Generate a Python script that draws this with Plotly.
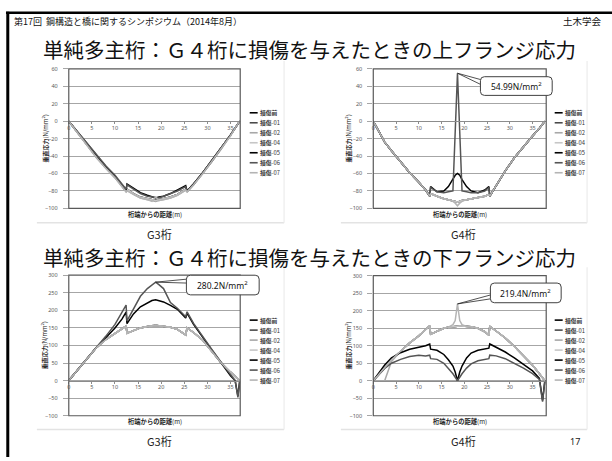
import plotly.graph_objects as go

W, H = 612, 461
JP = "Noto Sans CJK JP"

# ---------------------------------------------------------------- series
SERIES = ["損傷前", "損傷-01", "損傷-02", "損傷-04", "損傷-05", "損傷-06", "損傷-07"]
LINE_COLORS = ["#000000", "#4a4a4a", "#a8a8a8", "#c6c6c6", "#000000", "#555555", "#b4b4b4"]

# distance from girder end (m)
x_g3 = [0, 2, 4, 6, 8, 10, 11.5, 12.4, 12.6, 14, 15.5, 17, 18, 18.8, 19.5, 20.5,
        22, 23.5, 25.3, 25.6, 27, 29, 31, 33, 35, 36, 36.6, 37.0]
x_g4 = [0, 1.2, 2.5, 4, 6, 8, 10, 11.5, 12.4, 12.6, 14, 15.5, 16.5, 17.5, 18.0, 18.5,
        19.0, 19.5, 20.5, 21.5, 23, 24.5, 25.4, 25.6, 27, 29, 31, 33, 35, 36.5, 37.2, 37.7]

# G3 upper flange (N/mm2)
g3_upper_pre = [0, -14, -28, -41, -53, -64, -74, -80, -78, -83, -87, -89, -90, -91, -90, -89,
                -87, -84, -78, -80, -72, -59, -45, -31, -16, -8, -3, 0]
g3_upper_d01 = [0, -14, -28, -41, -53, -64, -74, -80, -78, -83, -87, -89, -90, -90, -90, -89,
                -87, -84, -78, -80, -72, -59, -45, -31, -16, -8, -3, 0]
g3_upper_d02 = [0, -14, -28, -42, -54, -65, -75, -81, -79, -84, -88, -90, -91, -92, -91, -90,
                -88, -85, -79, -81, -73, -60, -46, -32, -16, -8, -3, 0]
g3_upper_d04 = [0, -14, -28, -41, -53, -64, -74, -80, -78, -83, -87, -89, -90, -91, -90, -89,
                -87, -84, -78, -80, -72, -59, -45, -31, -16, -8, -3, 0]
g3_upper_d05 = [0, -13, -27, -40, -52, -63, -73, -79, -72, -77, -82, -85, -87, -88, -87, -86,
                -83, -79, -74, -80, -72, -59, -45, -31, -16, -8, -3, 0]
g3_upper_d06 = [0, -13, -26, -39, -51, -62, -72, -78, -73, -78, -83, -86, -87, -88, -88, -86,
                -83, -80, -75, -81, -73, -60, -46, -31, -16, -8, -3, 0]
g3_upper_d07 = [0, -14, -29, -42, -54, -65, -75, -81, -80, -84, -88, -90, -92, -87, -91, -90,
                -88, -85, -79, -81, -73, -60, -46, -32, -17, -8, -3, 0]

# G4 upper flange (N/mm2)
g4_upper_pre = [0, -12, -24, -34, -47, -59, -70, -79, -86, -83, -86, -89, -90, -91, -92, -93,
                -92, -91, -90, -89, -88, -86, -84, -86, -74, -57, -42, -29, -17, -8, -4, 0]
g4_upper_d01 = [0, -12, -24, -34, -47, -59, -70, -79, -86, -83, -86, -89, -90, -91, -92, -93,
                -92, -91, -90, -89, -88, -86, -84, -86, -74, -57, -42, -29, -17, -8, -4, 0]
g4_upper_d02 = [0, -12, -24, -34, -47, -59, -70, -79, -86, -83, -86, -89, -90, -91, -92, -93,
                -92, -91, -90, -89, -88, -86, -84, -86, -74, -57, -42, -29, -17, -8, -4, 0]
g4_upper_d04 = [0, -12, -24, -34, -47, -59, -70, -79, -86, -83, -86, -89, -90, -91, -92, -93,
                -92, -91, -90, -89, -88, -86, -84, -86, -74, -57, -42, -29, -17, -8, -4, 0]
g4_upper_d05 = [0, -12, -24, -34, -47, -59, -70, -79, -86, -75, -81, -80, -75, -67, -62, -60,
                -62, -67, -75, -80, -82, -79, -75, -86, -74, -57, -42, -29, -17, -8, -4, 0]
g4_upper_d06 = [0, -12, -24, -34, -47, -59, -70, -79, -86, -76, -81, -82, -81, -80, None, 54.99,
                None, -80, -81, -82, -82, -80, -76, -86, -74, -57, -42, -29, -17, -8, -4, 0]
g4_upper_d07 = [0, -12, -24, -34, -47, -59, -70, -79, -86, -83, -86, -89, -90, -92, -94, -97,
                -94, -92, -90, -89, -88, -86, -84, -86, -74, -57, -42, -29, -17, -8, -4, 0]

# G3 lower flange (N/mm2)
g3_lower_pre = [0, 31, 62, 94, 117, 135, 147, 155, 135, 143, 150, 154, 156, 157, 156, 155,
                152, 146, 130, 150, 137, 115, 84, 50, 24, 11, 3, 0]
g3_lower_d01 = [0, 31, 62, 94, 117, 135, 147, 155, 135, 143, 150, 154, 156, 158, 156, 155,
                152, 146, 130, 150, 137, 115, 84, 50, 24, 11, 3, 0]
g3_lower_d02 = [0, 31, 62, 94, 117, 135, 147, 155, 135, 143, 150, 154, 156, 157, 156, 155,
                152, 146, 130, 150, 137, 115, 84, 50, 24, 11, 3, 0]
g3_lower_d04 = [0, 31, 62, 94, 117, 135, 147, 155, 135, 143, 150, 154, 156, 157, 156, 155,
                152, 146, 130, 150, 137, 115, 84, 50, 24, 11, 3, 0]
g3_lower_d05 = [0, 31, 62, 95, 122, 150, 175, 195, 162, 190, 210, 222, 228, 230, 228, 224,
                214, 203, 178, 192, 160, 122, 86, 50, 14, 0, -44, 0]
g3_lower_d06 = [0, 31, 62, 96, 126, 160, 192, 215, 170, 205, 240, 262, 272, 280.2, 273, 262,
                222, 206, 182, 196, 163, 124, 88, 52, 15, 0, -48, 0]
g3_lower_d07 = [0, 31, 62, 94, 117, 135, 147, 155, 134, 143, 150, 154, 156, 158, 156, 155,
                152, 146, 130, 150, 137, 115, 84, 50, 24, 11, 3, 0]

# G4 lower flange (N/mm2)
g4_lower_pre = [0, 18, 38, 60, 84, 108, 128, 146, 157, 133, 142, 150, 153, 155, 156, 156,
                156, 156, 155, 154, 150, 140, 130, 155, 142, 122, 98, 71, 44, 20, 8, 0]
g4_lower_d01 = [0, 18, 38, 60, 84, 108, 128, 146, 157, 133, 142, 150, 153, 155, 156, 156,
                156, 156, 155, 154, 150, 140, 130, 155, 142, 122, 98, 71, 44, 20, 8, 0]
g4_lower_d02 = [0, 0, 0, 55, 84, 108, 128, 146, 157, 133, 142, 150, 153, 155, 156, 156,
                156, 156, 155, 154, 150, 140, 130, 155, 142, 122, 98, 71, 44, 20, 8, 0]
g4_lower_d04 = [0, 18, 38, 60, 84, 108, 128, 146, 157, 133, 142, 150, 153, 155, 156, 156,
                156, 156, 155, 154, 150, 140, 130, 155, 142, 122, 98, 71, 44, 20, 8, 0]
g4_lower_d05 = [0, 22, 45, 65, 80, 90, 95, 100, 105, 90, 87, 75, 60, 42, 25, 0,
                25, 42, 65, 79, 87, 91, 93, 105, 96, 82, 65, 47, 28, 7, -56, 0]
g4_lower_d06 = [0, 17, 35, 50, 61, 69, 73, 71, 73, 63, 61, 50, 36, 20, 10, 0,
                10, 20, 36, 48, 57, 61, 63, 73, 71, 63, 50, 36, 20, 4, -60, 0]
g4_lower_d07 = [0, 18, 38, 60, 84, 108, 128, 146, 157, 133, 142, 150, 153, 160, 172, 219.4,
                172, 160, 155, 154, 150, 140, 130, 155, 142, 122, 98, 71, 44, 20, 8, 0]

# ---------------------------------------------------------------- helpers (pixel -> paper)
def fx(p):
    return p / W


def fy(p):
    return 1 - p / H


panels = [
    dict(xs=x_g3, xr=(0, 37.1), yr=(-100, 60), dtick=20, box=(67, 239, 66, 208),
         ys=[g3_upper_pre, g3_upper_d01, g3_upper_d02, g3_upper_d04, g3_upper_d05, g3_upper_d06, g3_upper_d07],
         leg=(248.5, 110.7), ytx=43, frame=(35, 283, 58, 222.5), gname="G3桁", gy=234),
    dict(xs=x_g4, xr=(0, 38), yr=(-100, 60), dtick=20, box=(372.5, 546, 66, 208),
         ys=[g4_upper_pre, g4_upper_d01, g4_upper_d02, g4_upper_d04, g4_upper_d05, g4_upper_d06, g4_upper_d07],
         leg=(554.5, 110.7), ytx=347, frame=(340, 587, 58, 222.5), gname="G4桁", gy=234),
    dict(xs=x_g3, xr=(0, 37.1), yr=(-100, 300), dtick=50, box=(67, 239, 276, 419),
         ys=[g3_lower_pre, g3_lower_d01, g3_lower_d02, g3_lower_d04, g3_lower_d05, g3_lower_d06, g3_lower_d07],
         leg=(248.5, 321.7), ytx=43, frame=(35, 283, 268, 433), gname="G3桁", gy=445),
    dict(xs=x_g4, xr=(0, 38), yr=(-100, 300), dtick=50, box=(372.5, 546, 276.5, 419),
         ys=[g4_lower_pre, g4_lower_d01, g4_lower_d02, g4_lower_d04, g4_lower_d05, g4_lower_d06, g4_lower_d07],
         leg=(554.5, 321.7), ytx=347, frame=(340, 587, 268, 433), gname="G4桁", gy=445),
]

fig = go.Figure()
shapes = []
annotations = []
layout_axes = {}

tick_font = dict(family="Noto Sans", size=5.5, color="#595959")

for k, p in enumerate(panels, start=1):
    sfx = "" if k == 1 else str(k)
    bx0, bx1, by0, by1 = p["box"]
    ydom = [fy(by1), fy(by0)]
    for name, color, ys in zip(SERIES, LINE_COLORS, p["ys"]):
        fig.add_trace(go.Scatter(
            x=p["xs"], y=ys, mode="lines", name=name,
            line=dict(color=color, width=1.5),
            connectgaps=True, showlegend=False,
            xaxis="x" + sfx, yaxis="y" + sfx, hoverinfo="skip"))

    y0r, y1r = p["yr"]
    zero_pos = ydom[0] + (0 - y0r) / (y1r - y0r) * (ydom[1] - ydom[0])
    layout_axes["xaxis" + sfx] = dict(
        domain=[fx(bx0), fx(bx1)], range=list(p["xr"]), anchor="free", position=zero_pos,
        tick0=0, dtick=5, showgrid=False, zeroline=False,
        showline=True, linecolor="#8c8c8c", linewidth=1,
        ticks="outside", ticklen=2, tickcolor="#8c8c8c",
        tickfont=tick_font, ticklabelstandoff=-1)
    layout_axes["yaxis" + sfx] = dict(
        domain=ydom, range=list(p["yr"]), anchor="x" + sfx,
        tick0=0, dtick=p["dtick"], showgrid=True, gridcolor="#a6a6a6", gridwidth=0.8,
        zeroline=False, showline=False,
        ticks="outside", ticklen=5, tickcolor="#a6a6a6",
        tickfont=tick_font, ticklabelstandoff=4)

    # plot-area border
    shapes.append(dict(type="rect", xref=f"x{sfx} domain", yref=f"y{sfx} domain",
                       x0=0, x1=1, y0=0, y1=1, line=dict(color="#595959", width=1.2)))

    # chart-area frame (bottom and right edges)
    fx0, fx1, fy0, fy1 = p["frame"]
    shapes.append(dict(type="line", xref="paper", yref="paper",
                       x0=fx(fx0), x1=fx(fx1), y0=fy(fy1), y1=fy(fy1),
                       line=dict(color="#e3e3e3", width=1.5)))
    shapes.append(dict(type="line", xref="paper", yref="paper",
                       x0=fx(fx1), x1=fx(fx1), y0=fy(fy0), y1=fy(fy1),
                       line=dict(color="#ececec", width=1.2)))

    # legend
    lx, ly = p["leg"]
    for i, (name, color) in enumerate(zip(SERIES, LINE_COLORS)):
        yy = ly + i * 10.17
        shapes.append(dict(type="line", xref="paper", yref="paper",
                           x0=fx(lx), x1=fx(lx + 8), y0=fy(yy), y1=fy(yy),
                           line=dict(color=color, width=1.6)))
        label = "<b>損傷前</b>" if name == "損傷前" else "<b>損傷</b>" + name[2:]
        annotations.append(dict(text=label, xref="paper", yref="paper",
                                x=fx(lx + 8.5), y=fy(yy), xanchor="left", yanchor="middle",
                                showarrow=False, font=dict(family=JP, size=5.8, color="#333333")))

    # axis titles
    annotations.append(dict(text="<b>垂直応力</b>(N/mm<sup>2</sup>)", xref="paper", yref="paper",
                            x=fx(p["ytx"]), y=fy((by0 + by1) / 2), textangle=-90,
                            xanchor="center", yanchor="middle", showarrow=False,
                            font=dict(family=JP, size=6, color="#262626")))
    annotations.append(dict(text="<b>桁端からの距離</b>(m)", xref="paper", yref="paper",
                            x=fx((bx0 + bx1) / 2), y=fy(by1 + 6), xanchor="center", yanchor="middle",
                            showarrow=False, font=dict(family=JP, size=6.3, color="#262626")))
    # girder caption
    annotations.append(dict(text=p["gname"], xref="paper", yref="paper",
                            x=fx(158 if k in (1, 3) else 463), y=fy(p["gy"]),
                            xanchor="center", yanchor="middle", showarrow=False,
                            font=dict(family=JP, size=11, color="#222222")))


def px_to_data(p, px, py):
    bx0, bx1, by0, by1 = p["box"]
    xr0, xr1 = p["xr"]
    yr0, yr1 = p["yr"]
    return (xr0 + (px - bx0) / (bx1 - bx0) * (xr1 - xr0),
            yr1 - (py - by0) / (by1 - by0) * (yr1 - yr0))


def rounded_box(x0, y0, x1, y1, r=4):
    def P(a, b):
        return f"{fx(a):.5f},{fy(b):.5f}"
    return (f"M{P(x0 + r, y0)} L{P(x1 - r, y0)} Q{P(x1, y0)} {P(x1, y0 + r)} "
            f"L{P(x1, y1 - r)} Q{P(x1, y1)} {P(x1 - r, y1)} L{P(x0 + r, y1)} "
            f"Q{P(x0, y1)} {P(x0, y1 - r)} L{P(x0, y0 + r)} Q{P(x0, y0)} {P(x0 + r, y0)} Z")


# value callouts: (panel, x of peak, series holding the peak, box px, wedge tails px)
callouts = [
    (1, 18.5, g4_upper_d06, (480, 74, 552, 93), [(480.5, 77), (480.5, 82)]),
    (2, 18.8, g3_lower_d06, (185, 276, 258, 296), [(185.5, 280), (185.5, 284)]),
    (3, 18.5, g4_lower_d07, (490, 284, 561, 304), [(490.5, 296), (490.5, 300)]),
]
for idx, xpk, ser, (cx0, cy0, cx1, cy1), tails in callouts:
    p = panels[idx]
    sfx = str(idx + 1)
    ypk = ser[p["xs"].index(xpk)]
    for tx, ty in tails:
        dx, dy = px_to_data(p, tx, ty)
        shapes.append(dict(type="line", xref="x" + sfx, yref="y" + sfx,
                           x0=xpk, y0=ypk, x1=dx, y1=dy,
                           line=dict(color="#262626", width=0.8)))
    shapes.append(dict(type="path", xref="paper", yref="paper", path=rounded_box(cx0, cy0, cx1, cy1),
                       fillcolor="white", line=dict(color="#404040", width=1)))
    annotations.append(dict(text=f"{ypk}N/mm<sup>2</sup>", xref="paper", yref="paper",
                            x=fx((cx0 + cx1) / 2), y=fy((cy0 + cy1) / 2),
                            xanchor="center", yanchor="middle", showarrow=False,
                            font=dict(family="Noto Sans", size=8.5, color="#111111")))

# slide frame
shapes.append(dict(type="line", xref="paper", yref="paper", x0=fx(4), x1=1, y0=fy(9), y1=fy(9),
                   line=dict(color="black", width=2.5)))
shapes.append(dict(type="line", xref="paper", yref="paper", x0=fx(5.8), x1=fx(5.8), y0=fy(8), y1=0,
                   line=dict(color="black", width=3)))

# header, titles, page number
annotations += [
    dict(text="第17回  鋼構造と橋に関するシンポジウム（2014年8月）", xref="paper", yref="paper",
         x=fx(10), y=fy(17.5), xanchor="left", yanchor="middle", showarrow=False,
         font=dict(family=JP, size=9, color="#111111")),
    dict(text="土木学会", xref="paper", yref="paper", x=fx(604), y=fy(17.5),
         xanchor="right", yanchor="middle", showarrow=False,
         font=dict(family=JP, size=9.5, color="#111111")),
    dict(text="単純多主桁：Ｇ４桁に損傷を与えたときの上フランジ応力", xref="paper", yref="paper",
         x=fx(309), y=fy(46), xanchor="center", yanchor="middle", showarrow=False,
         font=dict(family=JP, size=20.5, color="#111111")),
    dict(text="単純多主桁：Ｇ４桁に損傷を与えたときの下フランジ応力", xref="paper", yref="paper",
         x=fx(309), y=fy(257), xanchor="center", yanchor="middle", showarrow=False,
         font=dict(family=JP, size=20.5, color="#111111")),
    dict(text="17", xref="paper", yref="paper", x=fx(575), y=fy(445),
         xanchor="center", yanchor="middle", showarrow=False,
         font=dict(family="Noto Sans", size=9, color="#222222")),
]

fig.update_layout(
    width=W, height=H, margin=dict(l=0, r=0, t=0, b=0),
    paper_bgcolor="white", plot_bgcolor="white",
    showlegend=False, shapes=shapes, annotations=annotations,
    **layout_axes)

fig.write_html("out.html")
